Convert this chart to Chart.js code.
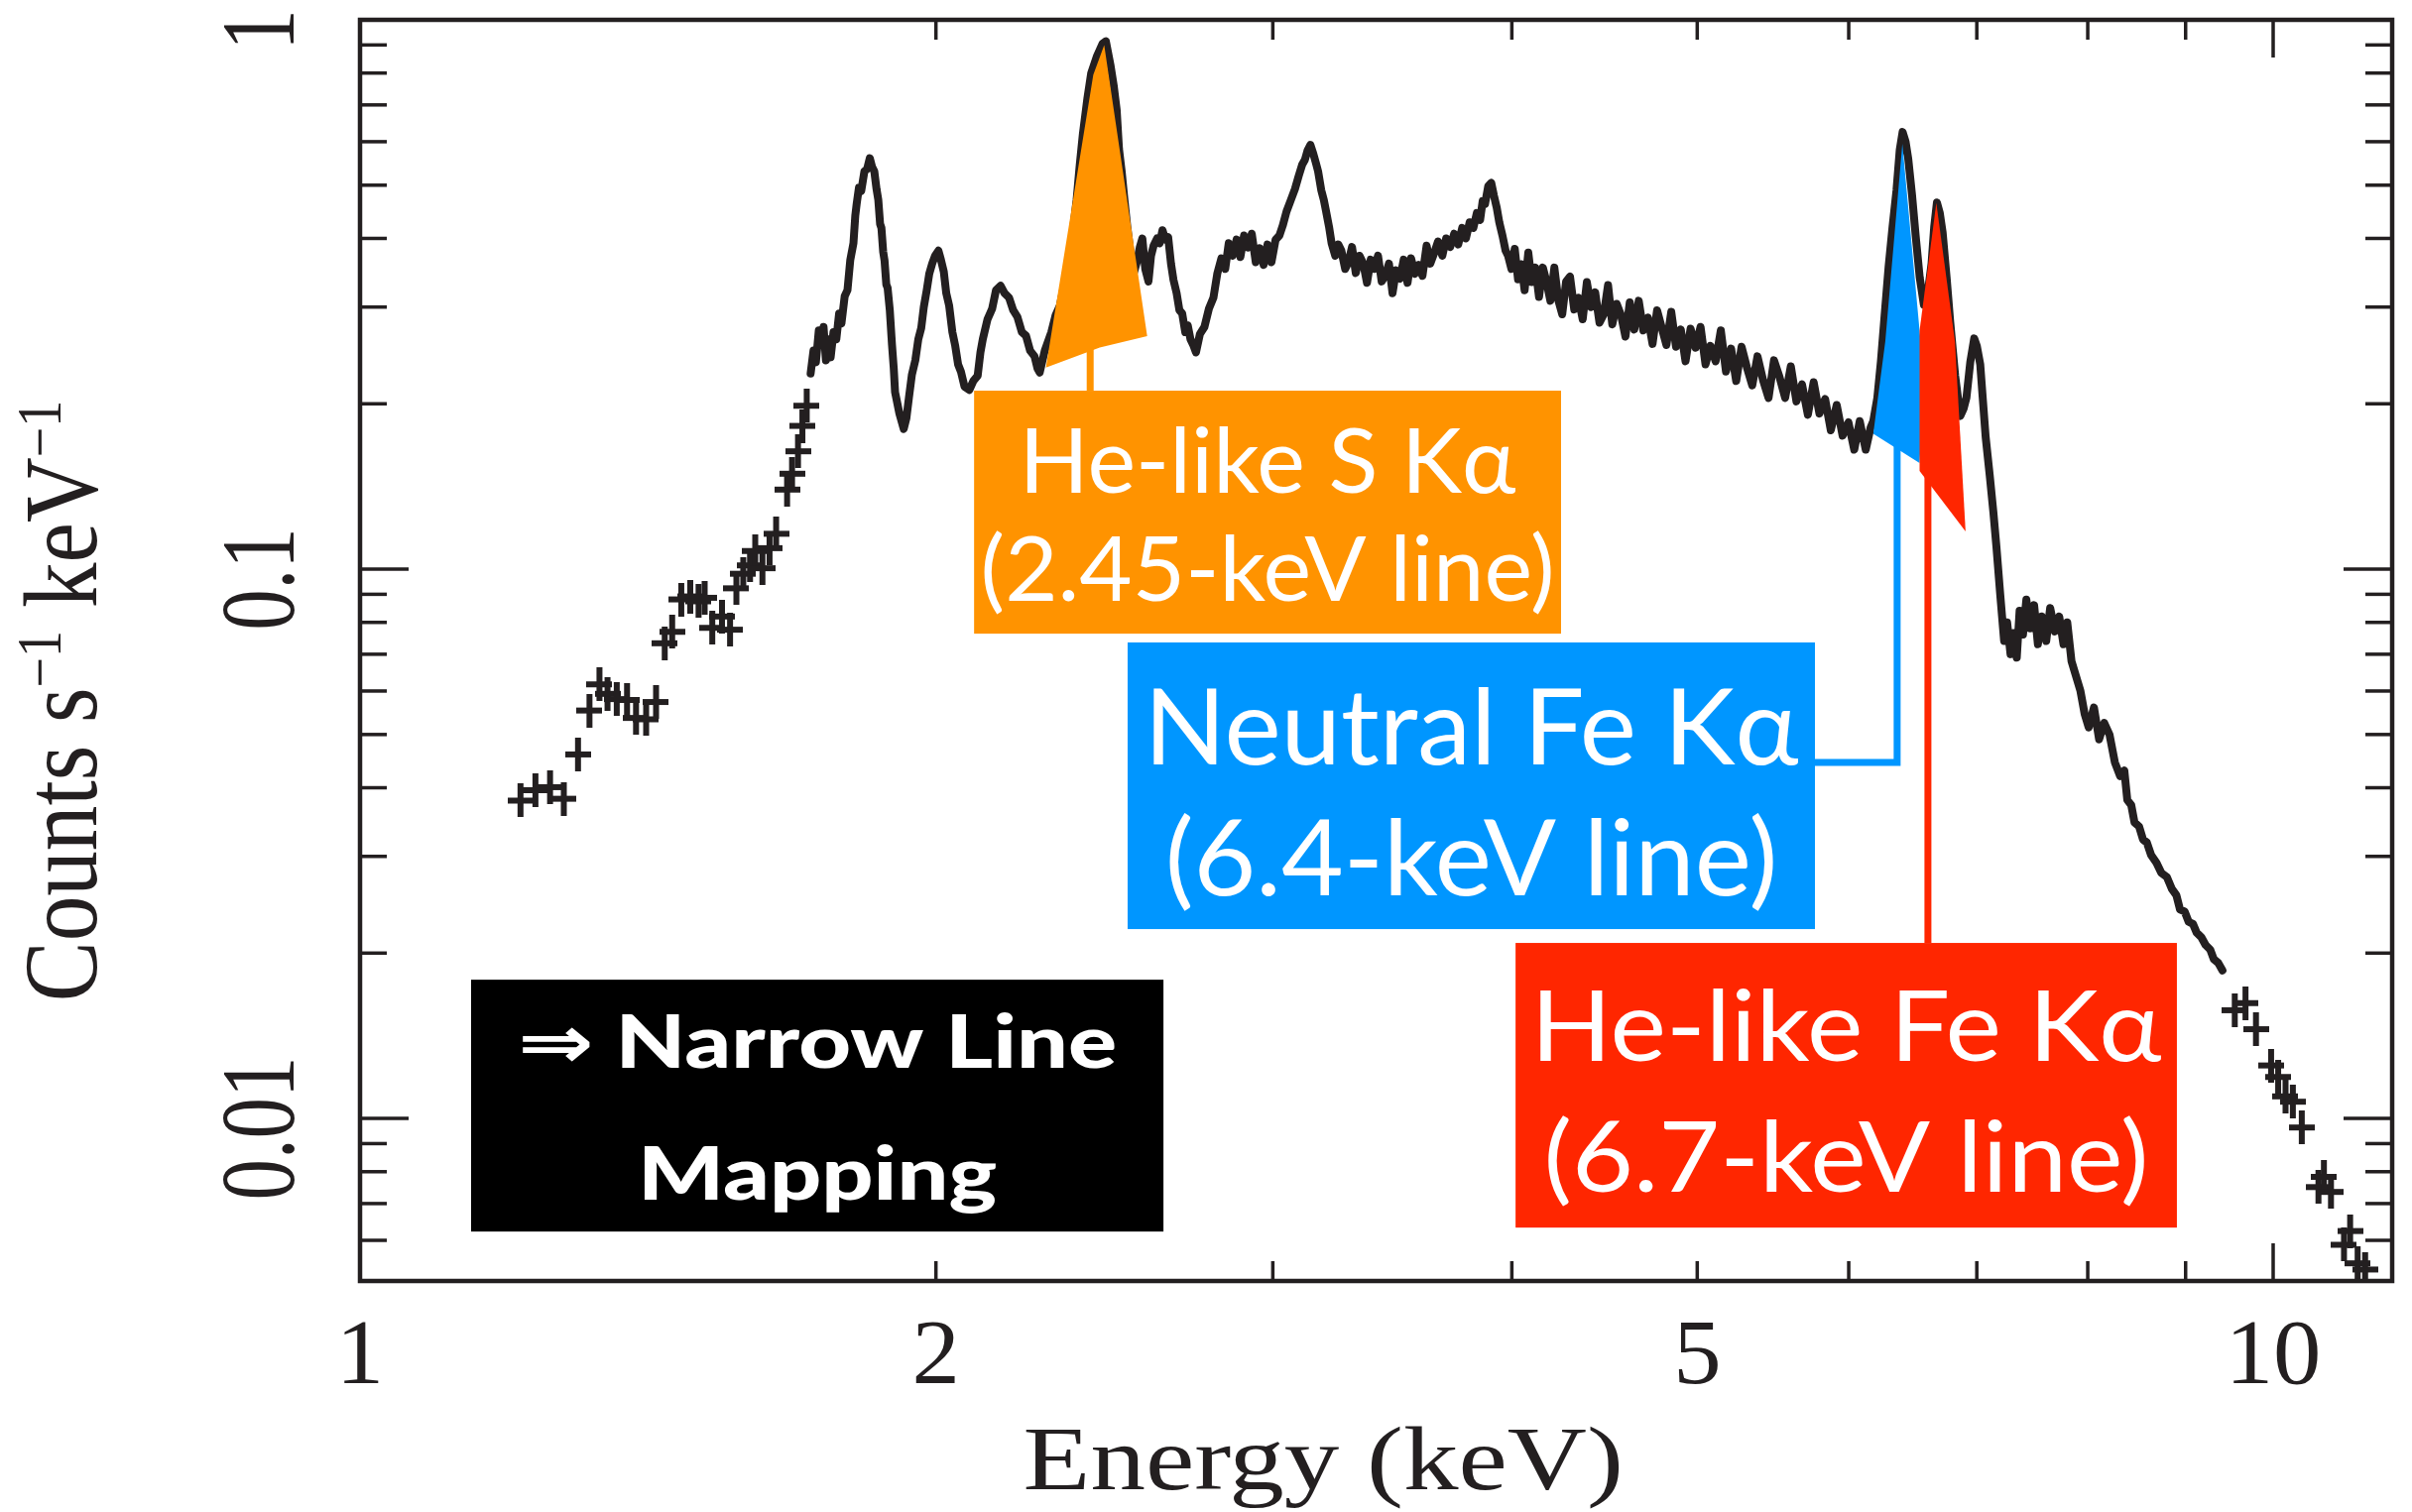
<!DOCTYPE html>
<html>
<head>
<meta charset="utf-8">
<title>X-ray spectrum</title>
<script src="https://cdn.jsdelivr.net/npm/chart.js"></script>
<style>
  body { margin: 0; background: #fff; }
  canvas { display: block; }
</style>
</head>
<body>
<canvas id="spec" width="2432" height="1525"></canvas>
<script>
  // sparse bins below the Si/S complex (keV, counts s^-1 keV^-1)
  const lowE = [1.213, 1.235, 1.257, 1.278, 1.300, 1.318, 1.334, 1.347, 1.362, 1.379, 1.394, 1.411,
    1.428, 1.443, 1.456, 1.472, 1.488, 1.503, 1.514, 1.528, 1.546, 1.561, 1.573, 1.586, 1.599,
    1.609, 1.623, 1.637, 1.650, 1.672, 1.682, 1.694, 1.703, 1.712];
  const lowCounts = [0.0379, 0.0396, 0.0401, 0.0382, 0.0460, 0.0553, 0.0617, 0.0593, 0.0580, 0.0578,
    0.0536, 0.0533, 0.0573, 0.0733, 0.0769, 0.0881, 0.0892, 0.0874, 0.0887, 0.0782, 0.0820, 0.0776,
    0.0923, 0.0981, 0.1016, 0.1079, 0.1004, 0.1092, 0.1160, 0.1396, 0.1492, 0.1639, 0.1823, 0.1984];

  // densely binned spectrum, [keV, counts]
  const siBand = [[1.720, 0.227], [1.726, 0.250], [1.731, 0.238], [1.737, 0.272], [1.742, 0.258],
    [1.747, 0.276], [1.752, 0.240], [1.757, 0.262], [1.762, 0.243], [1.768, 0.270], [1.774, 0.262],
    [1.780, 0.292], [1.785, 0.280], [1.792, 0.314], [1.798, 0.322], [1.804, 0.365], [1.811, 0.392],
    [1.815, 0.440], [1.818, 0.462], [1.823, 0.495], [1.828, 0.488], [1.835, 0.530], [1.841, 0.535],
    [1.847, 0.560], [1.852, 0.540], [1.857, 0.530], [1.862, 0.492], [1.866, 0.470], [1.870, 0.425],
    [1.873, 0.418], [1.877, 0.378], [1.880, 0.365], [1.884, 0.330], [1.887, 0.325], [1.892, 0.296],
    [1.897, 0.256], [1.901, 0.232], [1.904, 0.210], [1.914, 0.192], [1.924, 0.180], [1.930, 0.188],
    [1.936, 0.205], [1.943, 0.226], [1.951, 0.240], [1.958, 0.262], [1.965, 0.275], [1.971, 0.300],
    [1.978, 0.322], [1.984, 0.345], [1.991, 0.360], [1.998, 0.372], [2.006, 0.380], [2.012, 0.366],
    [2.019, 0.348], [2.025, 0.318], [2.032, 0.302], [2.040, 0.270], [2.047, 0.255], [2.054, 0.236],
    [2.061, 0.229], [2.070, 0.215], [2.082, 0.212], [2.092, 0.220], [2.103, 0.225], [2.110, 0.248],
    [2.116, 0.262], [2.128, 0.285], [2.140, 0.298], [2.150, 0.322], [2.162, 0.328], [2.172, 0.318],
    [2.184, 0.312], [2.195, 0.296], [2.206, 0.288], [2.218, 0.270], [2.229, 0.266], [2.240, 0.250],
    [2.252, 0.244], [2.260, 0.232], [2.266, 0.228], [2.280, 0.250], [2.298, 0.270]];

  const sArBand = [[2.310, 0.290], [2.322, 0.302], [2.334, 0.330], [2.346, 0.358], [2.358, 0.410],
    [2.369, 0.470], [2.378, 0.545], [2.387, 0.620], [2.400, 0.720], [2.411, 0.800], [2.428, 0.860],
    [2.444, 0.905], [2.454, 0.914], [2.468, 0.824], [2.477, 0.760], [2.486, 0.686], [2.493, 0.582],
    [2.501, 0.530], [2.509, 0.473], [2.518, 0.420], [2.527, 0.380], [2.537, 0.345], [2.547, 0.362],
    [2.556, 0.385], [2.564, 0.400], [2.573, 0.352], [2.583, 0.334], [2.591, 0.372], [2.599, 0.388],
    [2.610, 0.400], [2.618, 0.392], [2.627, 0.414], [2.636, 0.398], [2.645, 0.402], [2.654, 0.360],
    [2.662, 0.336], [2.672, 0.318], [2.681, 0.296], [2.690, 0.292], [2.700, 0.270], [2.708, 0.278],
    [2.717, 0.262], [2.726, 0.256], [2.735, 0.248], [2.748, 0.268], [2.763, 0.276], [2.778, 0.298],
    [2.793, 0.312], [2.806, 0.345], [2.820, 0.368], [2.833, 0.352], [2.845, 0.392], [2.858, 0.372],
    [2.872, 0.398], [2.885, 0.370], [2.898, 0.405], [2.912, 0.385], [2.925, 0.408], [2.939, 0.362],
    [2.953, 0.384], [2.967, 0.358], [2.981, 0.390], [2.995, 0.362], [3.010, 0.398], [3.024, 0.405],
    [3.036, 0.422], [3.050, 0.448], [3.066, 0.470], [3.081, 0.492], [3.095, 0.520], [3.108, 0.545],
    [3.118, 0.556], [3.128, 0.578], [3.139, 0.592], [3.150, 0.570], [3.160, 0.548], [3.168, 0.530],
    [3.180, 0.490], [3.190, 0.470], [3.197, 0.452], [3.210, 0.420], [3.220, 0.392], [3.234, 0.372],
    [3.246, 0.390], [3.258, 0.380], [3.273, 0.352], [3.286, 0.362], [3.300, 0.386], [3.315, 0.346],
    [3.330, 0.372], [3.345, 0.360], [3.360, 0.332], [3.375, 0.366], [3.390, 0.352], [3.405, 0.372],
    [3.420, 0.334], [3.435, 0.342], [3.450, 0.360], [3.465, 0.318], [3.480, 0.350], [3.496, 0.338],
    [3.512, 0.366], [3.528, 0.332], [3.543, 0.368], [3.560, 0.345], [3.576, 0.358], [3.592, 0.342],
    [3.610, 0.388], [3.626, 0.360], [3.643, 0.376], [3.660, 0.395], [3.679, 0.372], [3.696, 0.400],
    [3.714, 0.386], [3.732, 0.408], [3.750, 0.390], [3.768, 0.418], [3.785, 0.400], [3.802, 0.428],
    [3.819, 0.418], [3.835, 0.445], [3.850, 0.432], [3.862, 0.468], [3.873, 0.462], [3.888, 0.498],
    [3.902, 0.505], [3.915, 0.478], [3.928, 0.455], [3.940, 0.428], [3.955, 0.405], [3.970, 0.380],
    [3.982, 0.372], [3.998, 0.352]];

  const continuumBand = [[4.014, 0.383], [4.030, 0.337], [4.046, 0.359], [4.062, 0.322], [4.080, 0.377],
    [4.097, 0.333], [4.115, 0.354], [4.133, 0.313], [4.152, 0.354], [4.170, 0.334], [4.190, 0.308],
    [4.210, 0.354], [4.230, 0.309], [4.250, 0.291], [4.270, 0.334], [4.290, 0.341], [4.312, 0.297],
    [4.334, 0.312], [4.356, 0.285], [4.378, 0.333], [4.400, 0.300], [4.422, 0.319], [4.445, 0.281],
    [4.468, 0.291], [4.491, 0.329], [4.514, 0.279], [4.538, 0.304], [4.562, 0.290], [4.586, 0.265],
    [4.610, 0.306], [4.635, 0.273], [4.660, 0.308], [4.686, 0.272], [4.712, 0.287], [4.738, 0.257],
    [4.764, 0.296], [4.791, 0.275], [4.818, 0.256], [4.846, 0.294], [4.874, 0.254], [4.902, 0.273],
    [4.930, 0.239], [4.960, 0.274], [4.990, 0.253], [5.020, 0.276], [5.050, 0.236], [5.080, 0.255],
    [5.112, 0.239], [5.144, 0.272], [5.176, 0.229], [5.208, 0.252], [5.240, 0.220], [5.274, 0.254],
    [5.308, 0.233], [5.342, 0.216], [5.376, 0.244], [5.412, 0.221], [5.448, 0.205], [5.484, 0.240],
    [5.520, 0.224], [5.558, 0.205], [5.596, 0.234], [5.634, 0.202], [5.672, 0.217], [5.712, 0.191],
    [5.752, 0.219], [5.792, 0.192], [5.832, 0.204], [5.872, 0.179], [5.914, 0.199], [5.956, 0.175],
    [5.998, 0.185], [6.040, 0.165], [6.080, 0.186], [6.124, 0.165], [6.160, 0.181], [6.180, 0.186]];

  const ironBand = [[6.210, 0.205], [6.237, 0.239], [6.265, 0.290], [6.295, 0.355], [6.325, 0.420],
    [6.355, 0.489], [6.380, 0.580], [6.402, 0.625], [6.425, 0.600], [6.445, 0.560], [6.475, 0.480],
    [6.504, 0.403], [6.535, 0.340], [6.568, 0.303], [6.600, 0.320], [6.629, 0.360], [6.650, 0.420],
    [6.672, 0.465], [6.695, 0.445], [6.718, 0.410], [6.750, 0.340], [6.780, 0.281], [6.820, 0.225],
    [6.862, 0.190], [6.890, 0.196], [6.913, 0.205], [6.945, 0.238], [6.978, 0.263], [7.000, 0.255],
    [7.029, 0.236], [7.050, 0.205], [7.075, 0.174], [7.110, 0.148], [7.141, 0.127], [7.167, 0.110],
    [7.200, 0.090], [7.234, 0.0740], [7.260, 0.0800], [7.290, 0.0700], [7.315, 0.0765], [7.345, 0.0690],
    [7.370, 0.0840], [7.400, 0.0760], [7.430, 0.0880], [7.464, 0.0780], [7.500, 0.0860], [7.534, 0.0730],
    [7.570, 0.0820], [7.610, 0.0740], [7.646, 0.0850], [7.690, 0.0770], [7.730, 0.0820], [7.770, 0.0730],
    [7.805, 0.0800], [7.845, 0.0680], [7.886, 0.0640], [7.930, 0.0600], [7.970, 0.0545], [8.009, 0.0515],
    [8.060, 0.0560], [8.110, 0.0490], [8.160, 0.0525], [8.212, 0.0500], [8.265, 0.0445], [8.318, 0.0420],
    [8.360, 0.0430], [8.390, 0.0380], [8.430, 0.0372], [8.463, 0.0346], [8.510, 0.0340], [8.550, 0.0322],
    [8.590, 0.0318], [8.633, 0.0302], [8.690, 0.0292], [8.740, 0.0280], [8.800, 0.0275], [8.851, 0.0262],
    [8.900, 0.0255], [8.940, 0.0240], [8.990, 0.0238], [9.033, 0.0228], [9.080, 0.0226], [9.120, 0.0218],
    [9.170, 0.0214], [9.218, 0.0207], [9.270, 0.0203], [9.310, 0.0195], [9.360, 0.0192], [9.408, 0.0186]];

  // sparse bins at the high-energy end
  const highE = [9.548, 9.672, 9.795, 9.975, 10.06, 10.15, 10.24, 10.35, 10.56, 10.63, 10.72, 10.89,
    10.97, 11.07, 11.17];
  const highCounts = [0.01574, 0.01622, 0.01454, 0.01249, 0.0119, 0.01097, 0.01073, 0.00963, 0.0075,
    0.00783, 0.00735, 0.00589, 0.00624, 0.00545, 0.00531];

  // axis ticks and labels
  const xMajor = [1, 10];
  const xMinor = [2, 3, 4, 5, 6, 7, 8, 9];
  const xLabels = [1, 2, 5, 10];
  const yMajor = [0.01, 0.1, 1];
  const yMinor = [0.006, 0.007, 0.008, 0.009, 0.02, 0.03, 0.04, 0.05, 0.06, 0.07, 0.08, 0.09,
    0.2, 0.3, 0.4, 0.5, 0.6, 0.7, 0.8, 0.9];
  const yLabels = ['0.01', '0.1', '1'];

  // line markers, outlines given as (keV, counts)
  const sulfurMark = [[2.283, 0.2328], [2.417, 0.794], [2.449, 0.899], [2.579, 0.2655], [2.436, 0.2532]];
  const fe64Mark = [[6.18, 0.1764], [6.27, 0.2598], [6.40, 0.5947], [6.57, 0.2211], [6.534, 0.156]];
  const fe67Mark = [[6.534, 0.2718], [6.667, 0.464], [6.818, 0.2598], [6.906, 0.1171], [6.534, 0.151]];

  const ink = '#231f20';
  const orange = '#FF9300', blue = '#0096FF', red = '#FF2600';

  const markers = [
    { color: orange, shape: sulfurMark, stem: [[2.408, 0.26], [2.408, 0.2113]] },
    { color: blue, shape: fe64Mark, stem: [[6.36, 0.175], [6.36, 0.04446], [5.761, 0.04446]] },
    { color: red, shape: fe67Mark, stem: [[6.6, 0.155], [6.6, 0.02087]] }
  ];

  // label boxes: corners in (keV, counts), text baselines in px below the box top
  const boxes = [
    { color: orange, x0: 2.094, x1: 4.244, y0: 0.2113, y1: 0.0763, size: 92, weight: 400,
      lines: ['He-like S Kα', '(2.45-keV line)'], base: [103, 212], fit: 501 },
    { color: blue, x0: 2.519, x1: 5.761, y0: 0.07355, y1: 0.02212, size: 106, weight: 400,
      lines: ['Neutral Fe Kα', '(6.4-keV line)'], base: [123, 255], fit: 660 },
    { color: red, x0: 4.018, x1: 8.906, y0: 0.02087, y1: 0.006329, size: 98, weight: 400,
      lines: ['He-like Fe Kα', '(6.7-keV line)'], base: [119, 251], fit: 636 },
    { color: '#000', x0: 1.143, x1: 2.630, y0: 0.01789, y1: 0.006225, size: 75, weight: 900,
      lines: ['⇒ Narrow Line', 'Mapping'], base: [89, 222], fit: 604 }
  ];

  function makeCross(w, h, lw, color) {
    const c = document.createElement('canvas');
    c.width = w; c.height = h;
    const g = c.getContext('2d');
    g.fillStyle = color;
    g.fillRect(0, (h - lw) / 2, w, lw);
    g.fillRect((w - lw) / 2, 0, lw, h);
    return c;
  }
  const crossImg = makeCross(26, 34, 6, ink);

  const toXY = (xs, ys) => xs.map((v, i) => ({ x: v, y: ys[i] }));
  const fromPairs = pairs => pairs.map(p => ({ x: p[0], y: p[1] }));

  function stretchedText(ctx, str, x, y, angle, stretch) {
    ctx.save();
    ctx.translate(x, y);
    ctx.rotate(angle);
    ctx.scale(stretch, 1);
    ctx.fillText(str, 0, 0);
    ctx.restore();
  }

  const markerPlugin = {
    id: 'lineMarkers',
    afterDatasetsDraw(chart) {
      const { ctx, scales: { x, y } } = chart;
      const X = v => x.getPixelForValue(v), Y = v => y.getPixelForValue(v);
      ctx.save();
      markers.forEach(m => {
        ctx.strokeStyle = m.color;
        ctx.lineWidth = 7;
        ctx.lineJoin = 'miter';
        ctx.beginPath();
        m.stem.forEach((p, i) => i ? ctx.lineTo(X(p[0]), Y(p[1])) : ctx.moveTo(X(p[0]), Y(p[1])));
        ctx.stroke();
      });
      markers.forEach(m => {
        ctx.fillStyle = m.color;
        ctx.beginPath();
        m.shape.forEach((p, i) => i ? ctx.lineTo(X(p[0]), Y(p[1])) : ctx.moveTo(X(p[0]), Y(p[1])));
        ctx.closePath();
        ctx.fill();
      });
      boxes.forEach(b => {
        const left = X(b.x0), right = X(b.x1), top = Y(b.y0), bottom = Y(b.y1);
        ctx.fillStyle = b.color;
        ctx.fillRect(left, top, right - left, bottom - top);
        ctx.fillStyle = '#fff';
        ctx.textAlign = 'center';
        ctx.textBaseline = 'alphabetic';
        ctx.font = b.weight + ' ' + b.size + 'px Lato, "Noto Sans", "DejaVu Sans", sans-serif';
        const sx = b.fit / ctx.measureText(b.lines[0]).width;
        b.lines.forEach((t, i) => stretchedText(ctx, t, (left + right) / 2, top + b.base[i], 0, sx));
      });
      ctx.restore();
    }
  };

  const framePlugin = {
    id: 'frame',
    afterDraw(chart) {
      const { ctx, chartArea: a, scales: { x, y } } = chart;
      const seg = (x0, y0, x1, y1) => { ctx.beginPath(); ctx.moveTo(x0, y0); ctx.lineTo(x1, y1); ctx.stroke(); };
      ctx.save();
      ctx.strokeStyle = ink;
      ctx.fillStyle = ink;
      ctx.lineWidth = 3.5;
      xMajor.concat(xMinor).forEach(v => {
        const len = xMajor.includes(v) ? 38 : 20;
        const p = x.getPixelForValue(v);
        seg(p, a.bottom, p, a.bottom - len);
        seg(p, a.top, p, a.top + len);
      });
      yMajor.concat(yMinor).forEach(v => {
        const len = yMajor.includes(v) ? 49 : 27;
        const p = y.getPixelForValue(v);
        seg(a.left, p, a.left + len, p);
        seg(a.right, p, a.right - len, p);
      });
      ctx.lineWidth = 4.5;
      ctx.strokeRect(a.left, a.top, a.right - a.left, a.bottom - a.top);

      // tick labels
      ctx.textAlign = 'center';
      ctx.textBaseline = 'alphabetic';
      ctx.font = '93px "Liberation Serif", "Times New Roman", serif';
      xLabels.forEach(v => stretchedText(ctx, String(v), x.getPixelForValue(v), a.bottom + 103, 0, 1.04));
      ctx.font = '106px "Liberation Serif", "Times New Roman", serif';
      yMajor.forEach((v, i) => stretchedText(ctx, yLabels[i], a.left - 67, y.getPixelForValue(v) + 10, -Math.PI / 2, 0.78));

      // axis titles
      ctx.font = '91px "Liberation Serif", "Times New Roman", serif';
      stretchedText(ctx, 'Energy (keV)', a.left + 0.474 * (a.right - a.left), a.bottom + 210, 0, 1.22);

      const main = '106px "Liberation Serif", "Times New Roman", serif';
      const sup = '63px "Liberation Serif", "Times New Roman", serif';
      const parts = [['Counts s', main, 0], ['−1', sup, 36], [' keV', main, 0], ['−1', sup, 36]];
      ctx.save();
      ctx.translate(97, a.top + 0.54 * (a.bottom - a.top));
      ctx.rotate(-Math.PI / 2);
      ctx.scale(0.86, 1);
      ctx.textAlign = 'left';
      let total = 0;
      parts.forEach(p => { ctx.font = p[1]; total += ctx.measureText(p[0]).width; });
      let pos = -total / 2;
      parts.forEach(p => {
        ctx.font = p[1];
        ctx.fillText(p[0], pos, -p[2]);
        pos += ctx.measureText(p[0]).width;
      });
      ctx.restore();
      ctx.restore();
    }
  };

  new Chart(document.getElementById('spec'), {
    type: 'scatter',
    data: {
      datasets: [
        {
          label: 'spectrum',
          data: fromPairs(siBand.concat(sArBand, continuumBand, ironBand)),
          showLine: true,
          borderColor: ink,
          borderWidth: 8,
          borderJoinStyle: 'round',
          borderCapStyle: 'round',
          pointRadius: 0,
          tension: 0
        },
        {
          label: 'low-energy bins',
          data: toXY(lowE, lowCounts),
          pointStyle: crossImg,
          pointRadius: 10,
          showLine: false
        },
        {
          label: 'high-energy bins',
          data: toXY(highE, highCounts),
          pointStyle: crossImg,
          pointRadius: 10,
          showLine: false
        }
      ]
    },
    options: {
      responsive: false,
      devicePixelRatio: 1,
      animation: false,
      layout: { padding: { left: 363, top: 20, right: 20, bottom: 233 } },
      plugins: { legend: { display: false }, tooltip: { enabled: false } },
      scales: {
        x: { type: 'logarithmic', min: 1, max: 11.54, display: false },
        y: { type: 'logarithmic', min: 0.00506, max: 1, display: false }
      }
    },
    plugins: [markerPlugin, framePlugin]
  });
</script>
</body>
</html>
